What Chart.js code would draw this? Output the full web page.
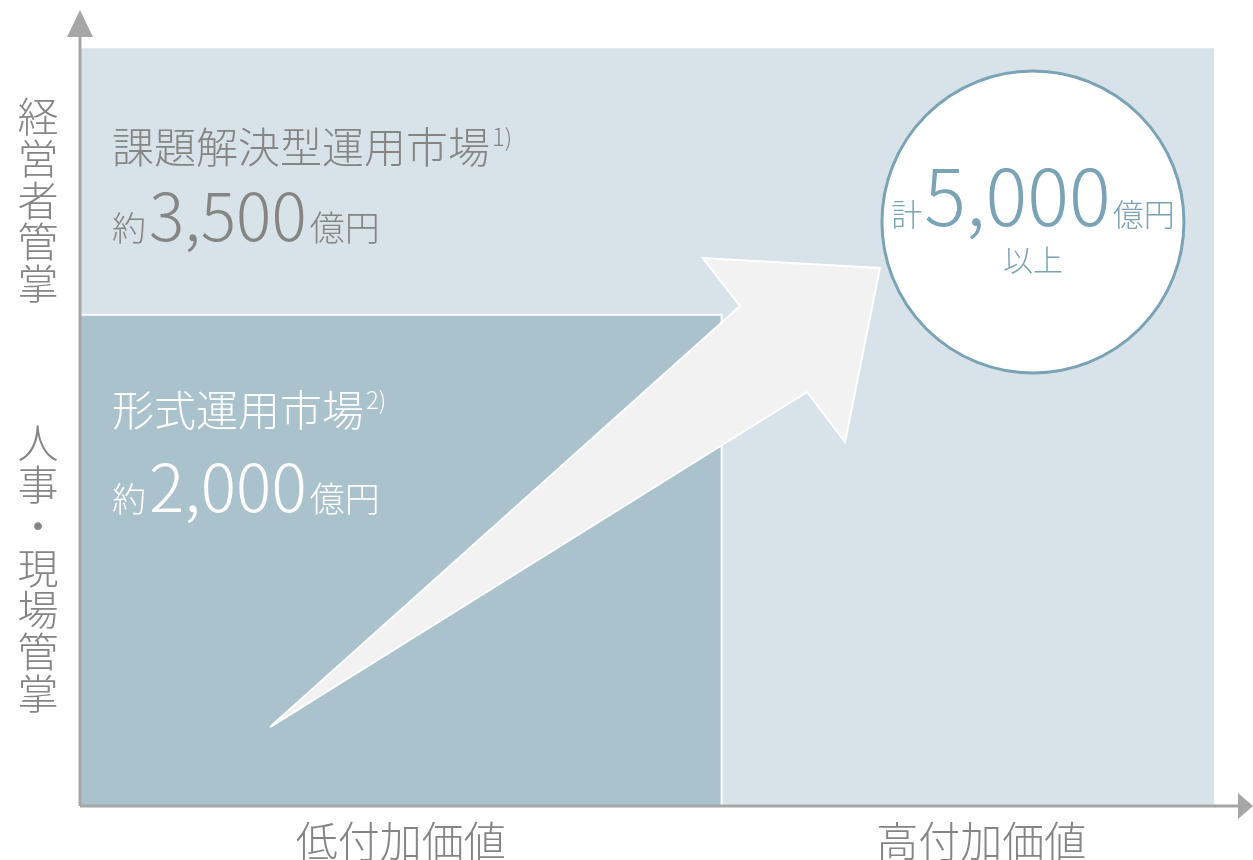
<!DOCTYPE html>
<html lang="ja">
<head>
<meta charset="utf-8">
<title>運用市場</title>
<script src="https://cdn.jsdelivr.net/npm/chart.js@4.4.1/dist/chart.umd.min.js"></script>
<style>
  html, body { margin: 0; padding: 0; background: #fff; }
  #wrap { width: 1253px; height: 860px; position: relative; }
</style>
</head>
<body>
<div id="wrap"><canvas id="marketChart"></canvas></div>
<script>
// categories and values
const categories = ['低付加価値', '高付加価値'];
const axisLabels = ['経営者管掌', '人事・現場管掌'];
const markets = ['課題解決型運用市場', '形式運用市場'];
const notes = ['1)', '2)'];
const marketValues = [3500, 2000];   // 億円
const totalValue = 5000;             // 億円

// shape extents in chart units (0-100 on both axes)
const segmentEdges = [0, 54.7, 96.7];
const layerEdges = [0, 61.7, 95.2];
const arrowPath = [
  [16.2, 9.92], [56.27, 62.81], [53.11, 68.84],
  [68.2, 67.59], [65.22, 45.73], [61.98, 52.01], [16.2, 9.92]
];
const totalCenter = [81.24, 73.37];

const FONT = '"Noto Sans CJK JP", "Noto Sans", sans-serif';
const GRAY = '#858585';
const AXIS = '#a6a6a6';
const BLUE = '#7aa3b5';

function fmt(v) { return v.toLocaleString('en-US'); }

// draw pieces of text on one baseline, left to right
function drawRun(ctx, x, y, parts) {
  ctx.textBaseline = 'alphabetic';
  ctx.textAlign = 'left';
  parts.forEach(p => {
    ctx.font = '300 ' + p.size + 'px ' + FONT;
    ctx.fillStyle = p.color;
    ctx.fillText(p.text, x + (p.dx || 0), y + (p.dy || 0));
    x += ctx.measureText(p.text).width + (p.dx || 0);
  });
  return x;
}

function runWidth(ctx, parts) {
  let w = 0;
  parts.forEach(p => {
    ctx.font = '300 ' + p.size + 'px ' + FONT;
    w += ctx.measureText(p.text).width + (p.dx || 0);
  });
  return w;
}

const overlay = {
  id: 'overlay',
  afterDatasetsDraw(chart) {
    const { ctx, chartArea, scales } = chart;
    const x0 = scales.x.getPixelForValue(0);
    const y0 = scales.y.getPixelForValue(0);
    ctx.save();

    // axes with arrow heads
    ctx.strokeStyle = AXIS;
    ctx.fillStyle = AXIS;
    ctx.lineWidth = 3;
    ctx.beginPath();
    ctx.moveTo(x0, y0);
    ctx.lineTo(x0, chartArea.top + 26);
    ctx.moveTo(x0, y0);
    ctx.lineTo(chartArea.right - 14, y0);
    ctx.stroke();
    ctx.beginPath();
    ctx.moveTo(x0 - 13, chartArea.top + 27);
    ctx.lineTo(x0 + 13, chartArea.top + 27);
    ctx.lineTo(x0, chartArea.top);
    ctx.closePath();
    ctx.fill();
    ctx.beginPath();
    ctx.moveTo(chartArea.right - 15, y0 - 13);
    ctx.lineTo(chartArea.right - 15, y0 + 13);
    ctx.lineTo(chartArea.right, y0);
    ctx.closePath();
    ctx.fill();

    // x categories, centred on their segments
    ctx.font = '300 42px ' + FONT;
    ctx.fillStyle = GRAY;
    ctx.textAlign = 'center';
    ctx.textBaseline = 'middle';
    categories.forEach((c, i) => {
      const lo = segmentEdges[i];
      const hi = i === categories.length - 1 ? scales.x.max : segmentEdges[i + 1];
      ctx.fillText(c, scales.x.getPixelForValue((lo + hi) / 2) - (i ? 6 : 0), y0 + 35);
    });

    // vertical y labels
    ctx.font = '300 41px ' + FONT;
    const yCenters = [200, 568];
    axisLabels.forEach((label, i) => {
      const chars = [...label];
      const step = 41.8;
      const start = yCenters[i] - (chars.length - 1) * step / 2;
      chars.forEach((ch, k) => ctx.fillText(ch, 38, start + k * step));
    });

    // market blocks
    const colors = [GRAY, '#ffffff'];
    const tops = [layerEdges[2], layerEdges[1]];
    markets.forEach((m, i) => {
      const left = x0 + 32;
      const top = scales.y.getPixelForValue(tops[i]);
      const shift = i ? 4 : 0;
      const end = drawRun(ctx, left, top + 115 - shift, [{ text: m, size: 42, color: colors[i] }]);
      drawRun(ctx, end + 2, top + 98 - shift, [{ text: notes[i], size: 24, color: colors[i] }]);
      drawRun(ctx, left, top + 193 + shift, [
        { text: '約', size: 34, color: colors[i] },
        { text: fmt(marketValues[i]), size: 66, color: colors[i], dx: 3 },
        { text: '億円', size: 35, color: colors[i], dx: 3 }
      ]);
    });

    // total inside the circle
    const cx = scales.x.getPixelForValue(totalCenter[0]);
    const cy = scales.y.getPixelForValue(totalCenter[1]);
    const parts = [
      { text: '計', size: 31, color: BLUE },
      { text: fmt(totalValue), size: 78, color: BLUE, dx: 2 },
      { text: '億円', size: 31, color: BLUE, dx: 2 }
    ];
    drawRun(ctx, cx - runWidth(ctx, parts) / 2, cy + 4, parts);
    ctx.font = '300 30px ' + FONT;
    ctx.fillStyle = BLUE;
    ctx.textAlign = 'center';
    ctx.textBaseline = 'middle';
    ctx.fillText('以上', cx, cy + 38);

    ctx.restore();
  }
};

const rect = (w, h) => [{ x: 0, y: h }, { x: w, y: h }, { x: w, y: 0 }];

new Chart(document.getElementById('marketChart'), {
  type: 'scatter',
  data: {
    datasets: [
      {
        // total circle
        data: [{ x: totalCenter[0], y: totalCenter[1] }],
        pointRadius: 151,
        pointBackgroundColor: '#ffffff',
        pointBorderColor: BLUE,
        pointBorderWidth: 3,
        clip: false,
        order: 1
      },
      {
        // growth arrow
        data: arrowPath.map(p => ({ x: p[0], y: p[1] })),
        showLine: true,
        fill: 'shape',
        backgroundColor: '#f2f2f2',
        borderColor: '#ffffff',
        borderWidth: 2,
        borderJoinStyle: 'miter',
        pointRadius: 0,
        tension: 0,
        order: 2
      },
      {
        // 形式運用市場
        data: rect(segmentEdges[1], layerEdges[1]),
        showLine: true,
        fill: 'origin',
        backgroundColor: '#a9c2cc',
        borderColor: '#ffffff',
        borderWidth: 2,
        pointRadius: 0,
        order: 3
      },
      {
        // 課題解決型運用市場
        data: rect(segmentEdges[2], layerEdges[2]),
        showLine: true,
        fill: 'origin',
        backgroundColor: '#d7e2e9',
        borderWidth: 0,
        pointRadius: 0,
        order: 4
      }
    ]
  },
  options: {
    responsive: true,
    maintainAspectRatio: false,
    animation: false,
    events: [],
    layout: { autoPadding: false, padding: { left: 80, right: 0, top: 10, bottom: 54 } },
    scales: {
      x: { type: 'linear', min: 0, max: 100, display: false },
      y: { type: 'linear', min: 0, max: 100, display: false }
    },
    plugins: {
      legend: { display: false },
      tooltip: { enabled: false }
    }
  },
  plugins: [overlay]
});
</script>
</body>
</html>
